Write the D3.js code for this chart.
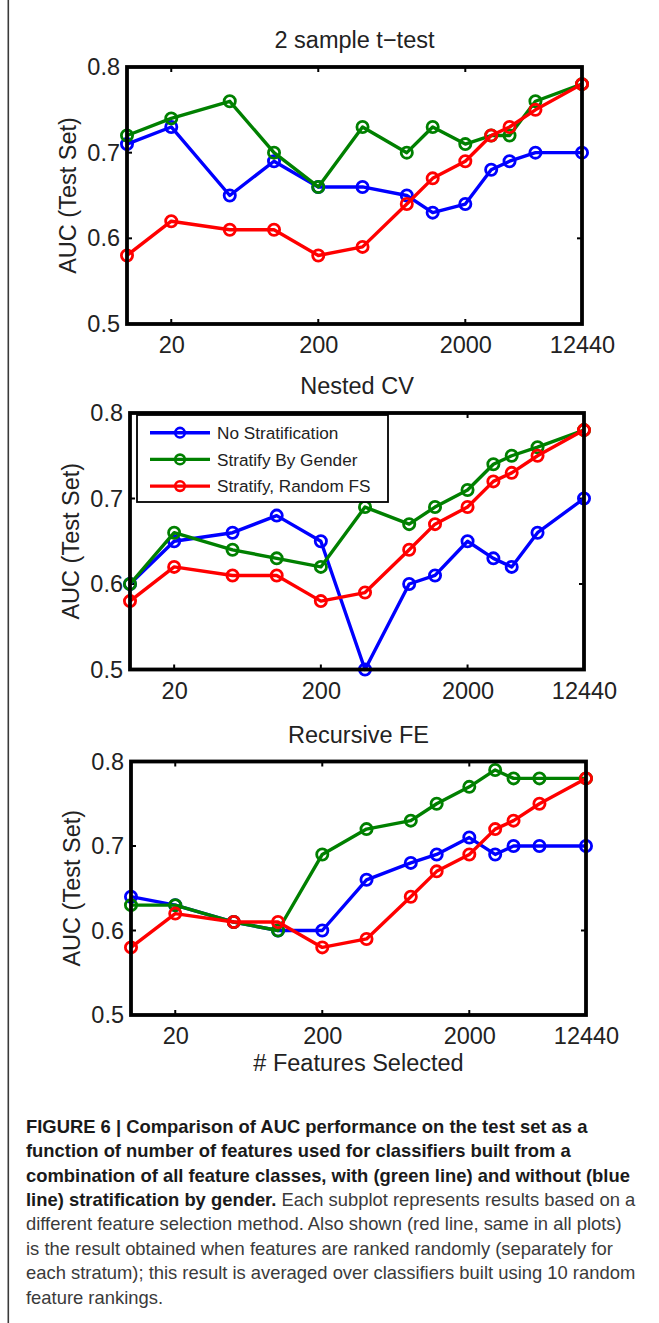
<!DOCTYPE html>
<html>
<head>
<meta charset="utf-8">
<script src="https://cdn.jsdelivr.net/npm/d3@7"></script>
<style>
  html, body { margin: 0; padding: 0; background: #ffffff; }
  svg { display: block; }
  text { font-family: "Liberation Sans", Arial, Helvetica, sans-serif; }
</style>
</head>
<body>
<svg id="fig" width="659" height="1323"></svg>
<script>
// Number of features selected (x positions of every point)
const features = [10, 20, 50, 100, 200, 400, 800, 1200, 2000, 3000, 4000, 6000, 12440];
const xTickValues = [20, 200, 2000, 12440];
const yTickValues = [0.5, 0.6, 0.7, 0.8];

const seriesNames = ["No Stratification", "Stratify By Gender", "Stratify, Random FS"];
const seriesColors = ["#0000ff", "#008000", "#ff0000"];

// Random feature ranking baseline (same in every panel)
const randomFS = [0.58, 0.62, 0.61, 0.61, 0.58, 0.59, 0.64, 0.67, 0.69, 0.72, 0.73, 0.75, 0.78];

// 2 sample t-test
const ttestNoStrat = [0.71, 0.73, 0.65, 0.69, 0.66, 0.66, 0.65, 0.63, 0.64, 0.68, 0.69, 0.70, 0.70];
const ttestGender  = [0.72, 0.74, 0.76, 0.70, 0.66, 0.73, 0.70, 0.73, 0.71, 0.72, 0.72, 0.76, 0.78];

// Nested CV
const nestedNoStrat = [0.60, 0.65, 0.66, 0.68, 0.65, 0.50, 0.60, 0.61, 0.65, 0.63, 0.62, 0.66, 0.70];
const nestedGender  = [0.60, 0.66, 0.64, 0.63, 0.62, 0.69, 0.67, 0.69, 0.71, 0.74, 0.75, 0.76, 0.78];

// Recursive feature elimination
const rfeNoStrat = [0.64, 0.63, 0.61, 0.60, 0.60, 0.66, 0.68, 0.69, 0.71, 0.69, 0.70, 0.70, 0.70];
const rfeGender  = [0.63, 0.63, 0.61, 0.60, 0.69, 0.72, 0.73, 0.75, 0.77, 0.79, 0.78, 0.78, 0.78];

const panelTitles = ["2 sample t\u2212test", "Nested CV", "Recursive FE"];
const panelSeries = [
  [ttestNoStrat, ttestGender, randomFS],
  [nestedNoStrat, nestedGender, randomFS],
  [rfeNoStrat, rfeGender, randomFS]
];

// Axes boxes of the three subplots
const boxes = [
  { left: 127, right: 582, top: 67,    bottom: 324 },
  { left: 130, right: 584, top: 413,   bottom: 669.5 },
  { left: 131, right: 586, top: 761.5, bottom: 1015 }
];

const svg = d3.select("#fig");
const axisFont = 23.5;

// thin frame line at the left edge of the figure
svg.append("line")
  .attr("x1", 8.3).attr("x2", 8.3).attr("y1", 0).attr("y2", 1323)
  .attr("stroke", "#3a3a3a").attr("stroke-width", 1.6);

panelSeries.forEach((seriesList, p) => {
  const b = boxes[p];
  const x = d3.scaleLog().domain([10, 12440]).range([b.left, b.right]);
  const y = d3.scaleLinear().domain([0.5, 0.8]).range([b.bottom, b.top]);
  const g = svg.append("g");

  // title
  g.append("text")
    .attr("x", (b.left + b.right) / 2)
    .attr("y", b.top - 19)
    .attr("text-anchor", "middle")
    .attr("font-size", axisFont)
    .attr("fill", "#222")
    .text(panelTitles[p]);

  // bottom axis labels and inward ticks (top and bottom)
  const xAxis = d3.axisBottom(x).tickValues(xTickValues).tickFormat(d3.format("d")).tickSize(0).tickPadding(0);
  const xg = g.append("g").attr("transform", `translate(0,${b.bottom})`).call(xAxis);
  xg.select(".domain").remove();
  xg.selectAll("text")
    .attr("font-size", axisFont)
    .attr("font-family", "Liberation Sans, Arial, sans-serif")
    .attr("fill", "#222")
    .attr("dy", null)
    .attr("y", 29);

  xTickValues.forEach(v => {
    g.append("line").attr("x1", x(v)).attr("x2", x(v))
      .attr("y1", b.bottom).attr("y2", b.bottom - 5)
      .attr("stroke", "#000").attr("stroke-width", 2);
    g.append("line").attr("x1", x(v)).attr("x2", x(v))
      .attr("y1", b.top).attr("y2", b.top + 5)
      .attr("stroke", "#000").attr("stroke-width", 2);
  });

  // left axis labels and inward ticks (left and right)
  const yAxis = d3.axisLeft(y).tickValues(yTickValues).tickFormat(d3.format(".1f")).tickSize(0).tickPadding(7);
  const yg = g.append("g").attr("transform", `translate(${b.left},0)`).call(yAxis);
  yg.select(".domain").remove();
  yg.selectAll("text")
    .attr("font-size", axisFont)
    .attr("font-family", "Liberation Sans, Arial, sans-serif")
    .attr("fill", "#222");

  yTickValues.forEach(v => {
    g.append("line").attr("x1", b.left).attr("x2", b.left + 5)
      .attr("y1", y(v)).attr("y2", y(v))
      .attr("stroke", "#000").attr("stroke-width", 2);
    g.append("line").attr("x1", b.right).attr("x2", b.right - 5)
      .attr("y1", y(v)).attr("y2", y(v))
      .attr("stroke", "#000").attr("stroke-width", 2);
  });

  // y axis title
  g.append("text")
    .attr("transform", `translate(${b.left - 51},${(b.top + b.bottom) / 2}) rotate(-90)`)
    .attr("text-anchor", "middle")
    .attr("font-size", axisFont)
    .attr("fill", "#222")
    .text("AUC (Test Set)");

  // data lines with open circle markers
  const line = d3.line().x((d, i) => x(features[i])).y(d => y(d));
  seriesList.forEach((vals, s) => {
    g.append("path")
      .datum(vals)
      .attr("d", line)
      .attr("fill", "none")
      .attr("stroke", seriesColors[s])
      .attr("stroke-width", 3.4)
      .attr("stroke-linejoin", "round");
    g.selectAll(null)
      .data(vals)
      .join("circle")
      .attr("cx", (d, i) => x(features[i]))
      .attr("cy", d => y(d))
      .attr("r", 5.6)
      .attr("fill", "none")
      .attr("stroke", seriesColors[s])
      .attr("stroke-width", 2.8);
  });

  // axes box
  g.append("rect")
    .attr("x", b.left).attr("y", b.top)
    .attr("width", b.right - b.left).attr("height", b.bottom - b.top)
    .attr("fill", "none")
    .attr("stroke", "#000")
    .attr("stroke-width", 3.8);

  // legend in the Nested CV panel
  if (p === 1) {
    const lg = g.append("g");
    lg.append("rect")
      .attr("x", 137).attr("y", 415)
      .attr("width", 251).attr("height", 87)
      .attr("fill", "#fff")
      .attr("stroke", "#000")
      .attr("stroke-width", 1.8);
    seriesNames.forEach((name, s) => {
      const ry = 432.7 + s * 26.7;
      lg.append("line")
        .attr("x1", 150).attr("x2", 210).attr("y1", ry).attr("y2", ry)
        .attr("stroke", seriesColors[s]).attr("stroke-width", 3.4);
      lg.append("circle")
        .attr("cx", 180).attr("cy", ry).attr("r", 4.8)
        .attr("fill", "none").attr("stroke", seriesColors[s]).attr("stroke-width", 2.6);
      lg.append("text")
        .attr("x", 217).attr("y", ry)
        .attr("dy", "0.36em")
        .attr("font-size", 17.2)
        .attr("fill", "#222")
        .text(name);
    });
  }
});

// x axis title under the last panel
svg.append("text")
  .attr("x", (boxes[2].left + boxes[2].right) / 2)
  .attr("y", 1071)
  .attr("text-anchor", "middle")
  .attr("font-size", axisFont)
  .attr("fill", "#222")
  .text("# Features Selected");

// figure caption
const captionLines = [
  [{ b: true, t: "FIGURE 6 | Comparison of AUC performance on the test set as a" }],
  [{ b: true, t: "function of number of features used for classifiers built from a" }],
  [{ b: true, t: "combination of all feature classes, with (green line) and without (blue" }],
  [{ b: true, t: "line) stratification by gender." }, { b: false, t: " Each subplot represents results based on a" }],
  [{ b: false, t: "different feature selection method. Also shown (red line, same in all plots)" }],
  [{ b: false, t: "is the result obtained when features are ranked randomly (separately for" }],
  [{ b: false, t: "each stratum); this result is averaged over classifiers built using 10 random" }],
  [{ b: false, t: "feature rankings." }]
];

const cap = svg.append("g");
captionLines.forEach((parts, i) => {
  const t = cap.append("text")
    .attr("x", 26)
    .attr("y", 1132.7 + i * 24.4)
    .attr("font-size", 18.4)
    .attr("xml:space", "preserve");
  parts.forEach(part => {
    t.append("tspan")
      .attr("font-weight", part.b ? "bold" : "normal")
      .attr("fill", part.b ? "#1a1a1a" : "#3a3a3a")
      .text(part.t);
  });
});
</script>
</body>
</html>
